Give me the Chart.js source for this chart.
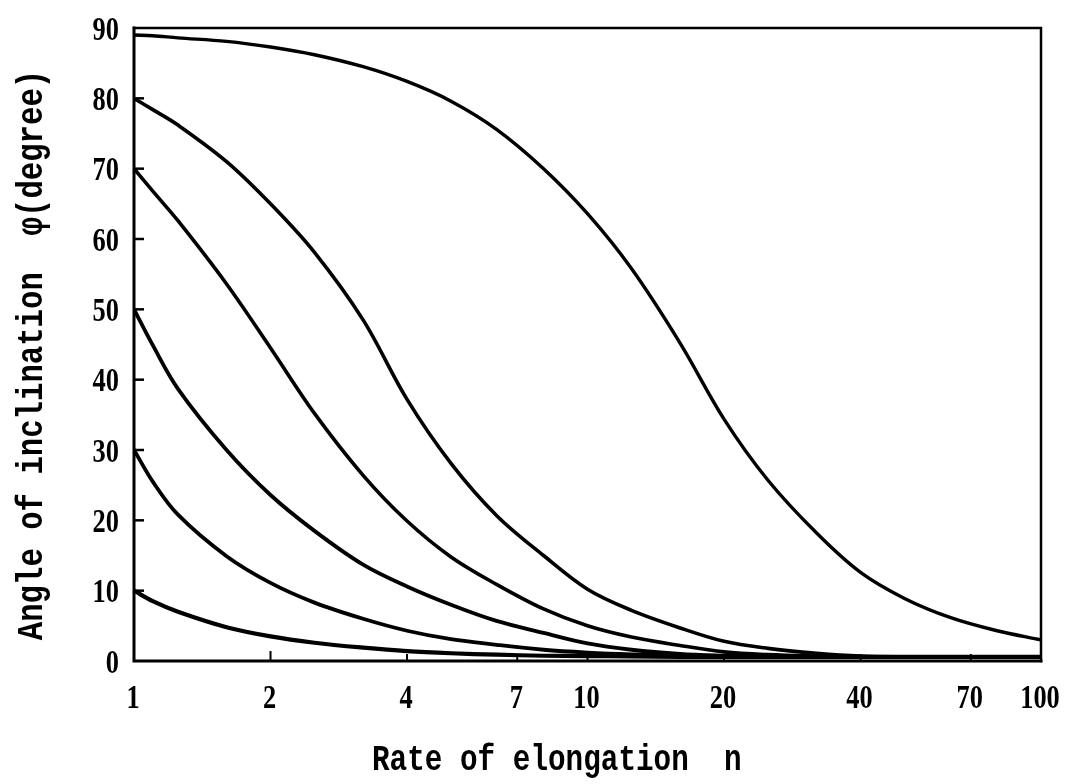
<!DOCTYPE html>
<html>
<head>
<meta charset="utf-8">
<script src="https://cdn.jsdelivr.net/npm/chart.js@4/dist/chart.umd.min.js"></script>
<style>
  html, body { margin: 0; padding: 0; background: #fff; }
  canvas { display: block; }
</style>
</head>
<body>
<canvas id="chart" width="1067" height="784"></canvas>
<script>
// Tick values and labels
const xTickValues = [1, 2, 4, 7, 10, 20, 40, 70, 100];
const yTickValues = [0, 10, 20, 30, 40, 50, 60, 70, 80, 90];

const xTitle = 'Rate of elongation  n';
const yTitle = 'Angle of inclination  \u03c6(degree)';

// Rate of elongation n at which each curve is sampled
const nValues = [1, 1.1, 1.25, 1.6, 2, 2.5, 3.2, 4, 5, 6.3, 8, 10, 12.5, 16, 20, 25, 32, 40, 50, 63, 80, 100];

// Inclination angle phi (degree) for each initial angle
const phi89 = [89, 88.9, 88.6, 88.1, 87.3, 86.2, 84.5, 82.4, 79.6, 75.6, 70.0, 63.6, 55.8, 45.2, 34.4, 25.7, 18.2, 12.6, 8.9, 6.2, 4.3, 3.0];
const phi80 = [80, 78.4, 76.2, 71.0, 65.0, 58.1, 48.5, 37.2, 28.1, 20.7, 15.0, 10.2, 7.2, 4.7, 2.8, 1.8, 1.1, 0.7, 0.6, 0.6, 0.6, 0.6];
const phi70 = [70, 66.8, 62.6, 53.6, 44.5, 35.2, 26.4, 19.9, 14.8, 10.9, 7.4, 5.0, 3.4, 2.2, 1.3, 0.9, 0.7, 0.6, 0.6, 0.6, 0.6, 0.6];
const phi50 = [50, 44.9, 38.7, 30.0, 23.6, 18.5, 13.7, 10.6, 8.0, 5.7, 4.0, 2.5, 1.6, 1.0, 0.75, 0.6, 0.6, 0.6, 0.6, 0.6, 0.6, 0.6];
const phi30 = [30, 25.5, 20.8, 14.9, 11.1, 8.3, 6.0, 4.3, 3.1, 2.3, 1.6, 1.2, 0.95, 0.8, 0.7, 0.6, 0.6, 0.6, 0.6, 0.6, 0.6, 0.6];
const phi10 = [10, 8.5, 7.0, 4.8, 3.5, 2.6, 1.9, 1.4, 1.1, 0.9, 0.75, 0.7, 0.65, 0.6, 0.6, 0.6, 0.6, 0.6, 0.6, 0.6, 0.6, 0.6];

const curves = [
  { phi: phi89, width: 3.4 },
  { phi: phi80, width: 3.6 },
  { phi: phi70, width: 3.6 },
  { phi: phi50, width: 3.8 },
  { phi: phi30, width: 3.8 },
  { phi: phi10, width: 4.2 }
];

const tickFont = 'bold 33px "Liberation Serif", "Times New Roman", serif';
const titleFont = 'bold 36px "Liberation Mono", "DejaVu Sans Mono", monospace';

// Draws horizontally condensed text
function condensedText(ctx, text, x, y, sx, align) {
  ctx.save();
  ctx.translate(x, y);
  ctx.scale(sx, 1);
  ctx.textAlign = align;
  ctx.fillText(text, 0, 0);
  ctx.restore();
}

const framePlugin = {
  id: 'frame',
  afterDraw(chart) {
    const ctx = chart.ctx;
    const a = chart.chartArea;
    const xs = chart.scales.x;
    const ys = chart.scales.y;
    ctx.save();
    ctx.strokeStyle = '#000';
    ctx.fillStyle = '#000';
    ctx.lineCap = 'square';

    // frame
    ctx.lineWidth = 3;
    ctx.beginPath();
    ctx.moveTo(a.left, a.top); ctx.lineTo(a.left, a.bottom); ctx.lineTo(a.right, a.bottom);
    ctx.stroke();
    ctx.lineWidth = 2.5;
    ctx.beginPath();
    ctx.moveTo(a.left, a.top); ctx.lineTo(a.right, a.top); ctx.lineTo(a.right, a.bottom);
    ctx.stroke();

    // inward ticks
    ctx.lineCap = 'butt';
    ctx.lineWidth = 2.5;
    yTickValues.forEach(v => {
      if (v === 0 || v === 90) return;
      const y = ys.getPixelForValue(v);
      ctx.beginPath(); ctx.moveTo(a.left, y); ctx.lineTo(a.left + 10, y); ctx.stroke();
    });
    ctx.lineWidth = 2;
    xTickValues.forEach(v => {
      if (v === 1 || v === 100) return;
      const x = xs.getPixelForValue(v);
      ctx.beginPath(); ctx.moveTo(x, a.bottom); ctx.lineTo(x, a.bottom - (v === 2 ? 10 : 7)); ctx.stroke();
    });

    // tick labels
    ctx.font = tickFont;
    ctx.textBaseline = 'middle';
    const digitW = ctx.measureText('0').width;
    const tsx = 13.2 / digitW;
    yTickValues.forEach(v => {
      condensedText(ctx, String(v), 119, ys.getPixelForValue(v) + 3, tsx, 'right');
    });
    xTickValues.forEach(v => {
      condensedText(ctx, String(v), xs.getPixelForValue(v) - 1, 699, tsx, 'center');
    });

    // axis titles
    ctx.font = titleFont;
    ctx.textBaseline = 'alphabetic';
    const adv = ctx.measureText('M').width;
    condensedText(ctx, xTitle, 372, 770, 17.6 / adv, 'left');

    ctx.save();
    ctx.translate(42, 355);
    ctx.rotate(-Math.PI / 2);
    ctx.scale(18.4 / adv, 1);
    ctx.textAlign = 'center';
    ctx.fillText(yTitle, 0, 0);
    ctx.restore();

    ctx.restore();
  }
};

new Chart(document.getElementById('chart'), {
  type: 'line',
  data: {
    datasets: curves.map(c => ({
      data: nValues.map((v, i) => ({ x: v, y: c.phi[i] })),
      borderColor: '#000',
      borderWidth: c.width,
      pointRadius: 0,
      fill: false,
      tension: 0.35,
      borderCapStyle: 'round',
      borderJoinStyle: 'round'
    }))
  },
  options: {
    responsive: false,
    animation: false,
    devicePixelRatio: 1,
    layout: { padding: { left: 134, right: 26, top: 28, bottom: 123 } },
    scales: {
      x: { type: 'logarithmic', min: 1, max: 100, display: false },
      y: { type: 'linear', min: 0, max: 90, display: false }
    },
    plugins: {
      legend: { display: false },
      tooltip: { enabled: false }
    }
  },
  plugins: [framePlugin]
});
</script>
</body>
</html>
